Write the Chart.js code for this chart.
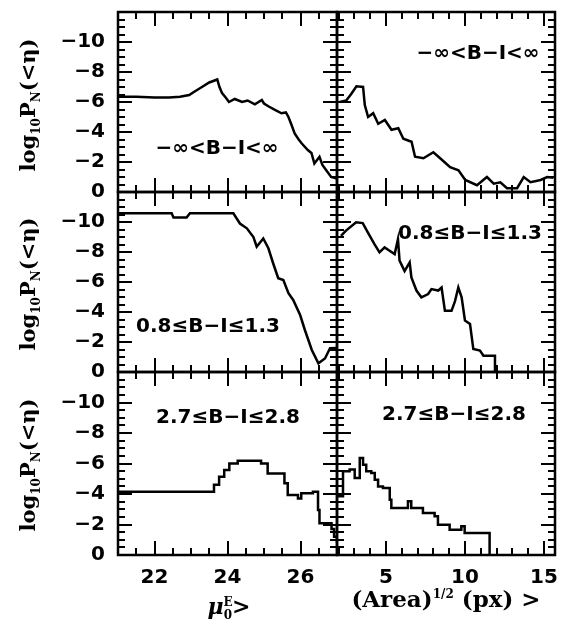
<!DOCTYPE html>
<html>
<head>
<meta charset="utf-8">
<script src="https://cdn.jsdelivr.net/npm/chart.js@4.4.1/dist/chart.umd.min.js"></script>
<style>
  body { margin: 0; background: #fff; }
  #wrap { position: relative; width: 572px; height: 624px; overflow: hidden; background: #fff; }
  canvas { position: absolute; }
  .lbl { position: absolute; transform: translate(-50%, -50%); white-space: nowrap;
         font: bold 20px "DejaVu Sans", sans-serif; color: #000; }
  .ttl { position: absolute; transform: translate(-50%, -50%); white-space: nowrap;
         font: bold 21px "DejaVu Serif", serif; color: #000; }
  .ytl { transform: translate(-50%, -50%) rotate(-90deg); }
  .ttl sub, .ttl sup { font-size: 12px; }
</style>
</head>
<body>
<div id="wrap">
  <canvas id="c00"></canvas><canvas id="c01"></canvas>
  <canvas id="c10"></canvas><canvas id="c11"></canvas>
  <canvas id="c20"></canvas><canvas id="c21"></canvas>

  <div class="lbl" style="left:217px;top:147px">−∞&lt;B−I&lt;∞</div>
  <div class="lbl" style="left:478px;top:52px">−∞&lt;B−I&lt;∞</div>
  <div class="lbl" style="left:208px;top:325px">0.8≤B−I≤1.3</div>
  <div class="lbl" style="left:470px;top:232px">0.8≤B−I≤1.3</div>
  <div class="lbl" style="left:228px;top:416px">2.7≤B−I≤2.8</div>
  <div class="lbl" style="left:454px;top:413px">2.7≤B−I≤2.8</div>

  <div class="ttl ytl" style="left:29px;top:105px">log<sub>10</sub>P<sub>N</sub>(&lt;η)</div>
  <div class="ttl ytl" style="left:29px;top:284px">log<sub>10</sub>P<sub>N</sub>(&lt;η)</div>
  <div class="ttl ytl" style="left:29px;top:465px">log<sub>10</sub>P<sub>N</sub>(&lt;η)</div>
  <div class="ttl" style="left:229px;top:608px;font-size:22px"><i>μ</i><sup>E</sup><sub style="margin-left:-9px">0</sub>&gt;</div>
  <div class="ttl" style="left:446px;top:598px;font-size:23px">(Area)<sup>1/2</sup> (px) &gt;</div>
</div>

<script>
// all colours: -inf < B-I < inf
const muAll = [21.0, 21.5, 22.0, 22.4, 22.7, 22.95, 23.1, 23.3, 23.5, 23.72, 23.78, 23.85, 23.95, 24.04, 24.2, 24.4, 24.55, 24.75, 24.94, 25.0, 25.13, 25.3, 25.48, 25.6, 25.67, 25.75, 25.84, 25.95, 26.03, 26.2, 26.3, 26.38, 26.52, 26.6, 26.7, 26.84, 27.0];
const logPMuAll = [-6.35, -6.35, -6.3, -6.3, -6.35, -6.47, -6.7, -7.0, -7.3, -7.5, -7.0, -6.6, -6.3, -6.0, -6.2, -6.0, -6.1, -5.85, -6.13, -5.9, -5.7, -5.47, -5.25, -5.3, -5.0, -4.5, -3.9, -3.5, -3.25, -2.8, -2.6, -1.9, -2.35, -1.8, -1.47, -1.0, -0.9];
const areaAll = [2.07, 2.49, 2.81, 3.13, 3.55, 3.66, 3.87, 4.19, 4.51, 4.93, 5.35, 5.78, 6.1, 6.62, 6.84, 7.37, 8.0, 8.43, 9.06, 9.59, 10.02, 10.76, 11.39, 11.82, 12.24, 12.66, 13.3, 13.72, 14.15, 14.79, 15.2, 15.6];
const logPAreaAll = [-6.0, -6.1, -6.55, -7.05, -7.0, -5.8, -5.0, -5.25, -4.55, -4.8, -4.15, -4.25, -3.55, -3.35, -2.35, -2.25, -2.65, -2.25, -1.65, -1.45, -0.8, -0.45, -1.0, -0.55, -0.65, -0.25, -0.25, -1.0, -0.65, -0.8, -1.0, -0.95];

// 0.8 <= B-I <= 1.3
const muBlue = [21.0, 22.47, 22.52, 22.88, 22.97, 24.16, 24.34, 24.53, 24.71, 24.8, 24.98, 25.12, 25.25, 25.39, 25.53, 25.67, 25.8, 25.99, 26.12, 26.31, 26.49, 26.67, 26.81, 27.0];
const logPMuBlue = [-10.58, -10.58, -10.3, -10.3, -10.58, -10.58, -9.9, -9.58, -9.0, -8.35, -8.9, -8.25, -7.25, -6.25, -6.13, -5.25, -4.8, -3.8, -2.8, -1.47, -0.58, -0.9, -1.58, -1.6];
const areaBlue = [2.15, 2.47, 3.11, 3.53, 3.85, 4.27, 4.59, 4.91, 5.23, 5.55, 5.76, 5.86, 6.18, 6.5, 6.61, 6.93, 7.24, 7.67, 7.88, 8.31, 8.52, 8.73, 9.15, 9.37, 9.58, 9.79, 10.0, 10.32, 10.53, 10.95, 11.17, 11.9, 11.9];
const logPAreaBlue = [-9.08, -9.43, -9.98, -9.93, -9.31, -8.53, -7.98, -8.31, -8.08, -7.86, -8.86, -7.43, -6.73, -7.31, -6.31, -5.43, -4.98, -5.2, -5.53, -5.43, -5.63, -4.08, -4.08, -4.73, -5.63, -4.98, -3.43, -3.2, -1.53, -1.43, -1.08, -1.08, 0];

// 2.7 <= B-I <= 2.8 (stepped)
const muRed = [21.0, 23.63, 23.77, 23.91, 24.05, 24.28, 24.92, 25.1, 25.56, 25.65, 25.93, 26.02, 26.34, 26.48, 26.52, 26.85, 26.92, 27.0];
const logPMuRed = [-4.15, -4.6, -5.13, -5.57, -6.0, -6.18, -6.0, -5.35, -4.7, -3.93, -3.7, -4.05, -4.15, -2.95, -2.08, -1.7, -1.2, -0.8];
const areaRed = [1.9, 2.28, 2.7, 3.02, 3.34, 3.55, 3.75, 4.07, 4.29, 4.5, 4.81, 5.24, 5.34, 6.39, 6.6, 7.34, 8.08, 8.29, 9.03, 9.77, 9.98, 11.56];
const logPAreaRed = [-3.85, -5.49, -5.6, -5.05, -6.36, -5.92, -5.49, -5.38, -4.94, -4.5, -4.4, -3.63, -3.08, -3.52, -3.08, -2.75, -2.54, -1.99, -1.66, -1.88, -1.44, 0];

// axes
const yTickLabels = [0, -2, -4, -6, -8, -10];
const muTickLabels = [22, 24, 26];
const areaTickLabels = [5, 10, 15];
const muRange = [21, 27];
const areaRange = [1.9, 15.7];
const yRange = [-12, 0];

// pixel layout of the 3x2 grid
const colEdges = [118, 337, 555];
const rowEdges = [12, 192, 372, 555];

function range(a, b, step) {
  const out = [];
  for (let v = a; v <= b + 1e-9; v += step) out.push(Math.round(v * 100) / 100);
  return out;
}
const yMinor = range(-11.5, -0.5, 0.5);
const yMajor = range(-12, 0, 2);
const muMinor = range(21.5, 26.5, 0.5);
const areaMinor = range(2, 15, 1);

// frame + inward tick marks on all four sides
const frameTicks = {
  id: 'frameTicks',
  afterDatasetsDraw(chart, args, opts) {
    const { ctx, chartArea: a, scales } = chart;
    const sx = scales.x, sy = scales.y;
    ctx.save();
    ctx.strokeStyle = '#000';
    ctx.lineWidth = 2;
    ctx.beginPath();
    const xt = (vals, len) => vals.forEach(v => {
      const px = Math.round(sx.getPixelForValue(v));
      ctx.moveTo(px, a.bottom); ctx.lineTo(px, a.bottom - len);
      ctx.moveTo(px, a.top); ctx.lineTo(px, a.top + len);
    });
    const yt = (vals, len) => vals.forEach(v => {
      const py = Math.round(sy.getPixelForValue(v));
      ctx.moveTo(a.left, py); ctx.lineTo(a.left + len, py);
      ctx.moveTo(a.right, py); ctx.lineTo(a.right - len, py);
    });
    xt(opts.xMinor, 7); xt(opts.xMajor, 14);
    yt(yMinor, 7); yt(yMajor, 14);
    ctx.stroke();
    ctx.lineWidth = 2.5;
    ctx.strokeRect(a.left, a.top, a.right - a.left, a.bottom - a.top);
    ctx.restore();
  }
};

const tickFont = { family: 'DejaVu Sans', size: 20, weight: 'bold' };

function makePanel(id, row, col, xs, ys, stepped) {
  const left = col === 0 ? 0 : colEdges[1] - 6;
  const right = col === 0 ? colEdges[1] + 6 : colEdges[2] + 6;
  const top = rowEdges[row] - 12;
  const bottom = row === 2 ? 624 : rowEdges[row + 1] + 12;
  const cv = document.getElementById(id);
  cv.width = right - left; cv.height = bottom - top;
  cv.style.width = (right - left) + 'px'; cv.style.height = (bottom - top) + 'px';
  cv.style.left = left + 'px'; cv.style.top = top + 'px';

  const xr = col === 0 ? muRange : areaRange;
  const xMajor = col === 0 ? muTickLabels : areaTickLabels;
  const xMinor = col === 0 ? muMinor : areaMinor;
  const showX = row === 2, showY = col === 0;

  new Chart(cv.getContext('2d'), {
    type: 'line',
    data: {
      datasets: [{
        data: xs.map((x, i) => ({ x: x, y: ys[i] })),
        borderColor: '#000',
        borderWidth: 2.5,
        pointRadius: 0,
        tension: 0,
        stepped: stepped
      }]
    },
    options: {
      responsive: false,
      maintainAspectRatio: false,
      animation: false,
      layout: { padding: { top: 12, bottom: showX ? 0 : 12, left: showY ? 0 : 6, right: 6 } },
      plugins: {
        legend: { display: false },
        tooltip: { enabled: false },
        frameTicks: { xMajor: xMajor, xMinor: xMinor }
      },
      scales: {
        x: {
          type: 'linear', min: xr[0], max: xr[1],
          display: showX,
          grid: { display: false, drawTicks: false },
          border: { display: false },
          ticks: { font: tickFont, color: '#000', padding: 11, autoSkip: false, maxRotation: 0 },
          afterBuildTicks: s => { s.ticks = xMajor.map(v => ({ value: v })); },
          afterFit: s => {
            s.height = showX ? 69 : 0;
            s.paddingLeft = 0; s.paddingRight = 0; s.paddingTop = 0; s.paddingBottom = 0;
          }
        },
        y: {
          type: 'linear', min: yRange[0], max: yRange[1], reverse: true,
          display: showY,
          grid: { display: false, drawTicks: false },
          border: { display: false },
          ticks: {
            font: tickFont, color: '#000', padding: 13, autoSkip: false,
            callback: v => v === 0 ? '0' : '−' + Math.abs(v)
          },
          afterBuildTicks: s => { s.ticks = yTickLabels.map(v => ({ value: v })); },
          afterFit: s => {
            s.width = showY ? colEdges[0] : 0;
            s.paddingLeft = 0; s.paddingRight = 0; s.paddingTop = 0; s.paddingBottom = 0;
          }
        }
      }
    },
    plugins: [frameTicks]
  });
}

makePanel('c00', 0, 0, muAll, logPMuAll, false);
makePanel('c01', 0, 1, areaAll, logPAreaAll, false);
makePanel('c10', 1, 0, muBlue, logPMuBlue, false);
makePanel('c11', 1, 1, areaBlue, logPAreaBlue, false);
makePanel('c20', 2, 0, muRed, logPMuRed, true);
makePanel('c21', 2, 1, areaRed, logPAreaRed, true);
</script>
</body>
</html>
